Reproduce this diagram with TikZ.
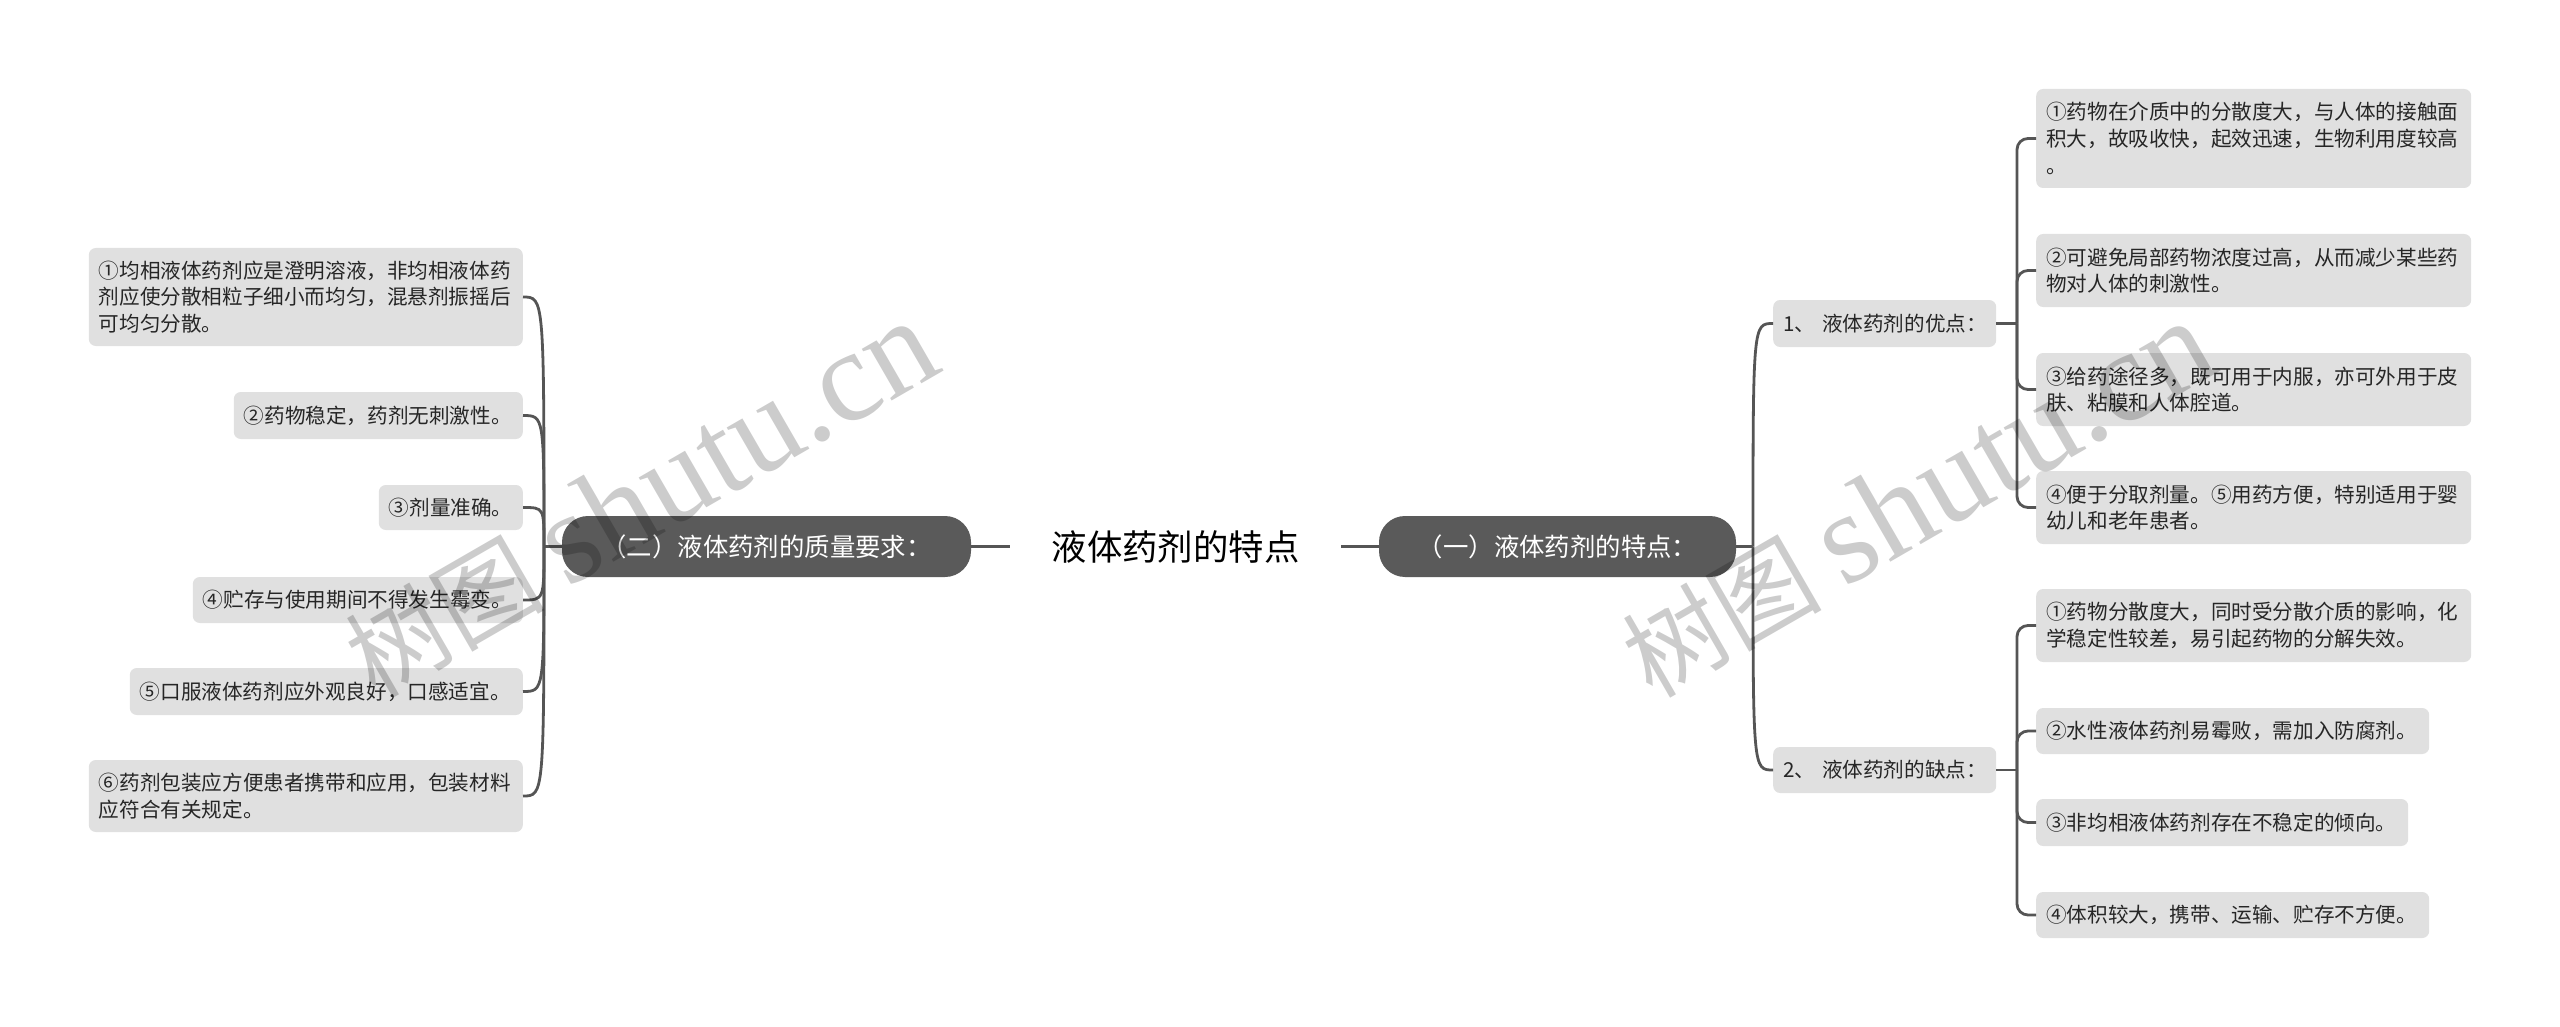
\documentclass[tikz,border=0pt]{standalone}
\usepackage{fontspec}
\setmainfont{Noto Sans CJK SC}
\newfontfamily\wmlatin{Liberation Serif}
\definecolor{maingray}{HTML}{5A5A5A}
\definecolor{leafgray}{HTML}{E0E0E0}
\definecolor{linegray}{HTML}{555555}
\definecolor{txtdark}{HTML}{262626}
\begin{document}
\begin{tikzpicture}[x=1pt,y=-1pt,
  leaf/.style={fill=leafgray, rounded corners=7pt, inner xsep=10pt, inner ysep=0pt,
    align=left, text=txtdark, font=\fontsize{20.6}{26.7}\selectfont},
  mainbox/.style={fill=maingray, rounded corners=26pt, text=white, inner sep=0pt,
    minimum height=61pt, font=\fontsize{25.4}{30}\selectfont},
  conn/.style={draw=linegray, line width=2.8pt},
  wm/.style={rotate=30, anchor=base west, text=black, text opacity=0.2, inner sep=0pt}
]
\useasboundingbox[fill=white] (0,0) rectangle (2560,1027);

% central title and main branches
\node[inner sep=0pt, minimum width=331pt, minimum height=50pt, text=black,
  font=\fontsize{35.4}{40}\selectfont] (title) at (1175.5,546.5) {液体药剂的特点};
\node[mainbox, minimum width=409pt] (b2) at (766.5,546.5) {（二）液体药剂的质量要求：};
\node[mainbox, minimum width=357pt] (b1) at (1557.5,546.5) {（一）液体药剂的特点：};

% left leaves
\node[leaf, anchor=east, minimum width=434pt, text width=414pt, minimum height=98pt] (L1) at (523,297)
  {①均相液体药剂应是澄明溶液，非均相液体药\\剂应使分散相粒子细小而均匀，混悬剂振摇后\\可均匀分散。};
\node[leaf, anchor=east, minimum width=289pt, text width=269pt, minimum height=47pt] (L2) at (523,415.5)
  {②药物稳定，药剂无刺激性。};
\node[leaf, anchor=east, minimum width=144pt, text width=124pt, minimum height=45pt] (L3) at (523,507.5)
  {③剂量准确。};
\node[leaf, anchor=east, minimum width=330pt, text width=310pt, minimum height=46pt] (L4) at (523,600)
  {④贮存与使用期间不得发生霉变。};
\node[leaf, anchor=east, minimum width=393pt, text width=373pt, minimum height=47pt] (L5) at (523,691.5)
  {⑤口服液体药剂应外观良好，口感适宜。};
\node[leaf, anchor=east, minimum width=434pt, text width=414pt, minimum height=72pt] (L6) at (523,796)
  {⑥药剂包装应方便患者携带和应用，包装材料\\应符合有关规定。};

% right second level
\node[leaf, anchor=west, minimum width=223pt, text width=203pt, minimum height=47pt] (n1) at (1773,323.5)
  {\mbox{1、 液体药剂的优点：}};
\node[leaf, anchor=west, minimum width=223pt, text width=203pt, minimum height=46pt] (n2) at (1773,770)
  {\mbox{2、 液体药剂的缺点：}};

% right leaves
\node[leaf, anchor=west, minimum width=435pt, text width=415pt, minimum height=99pt] (c1) at (2036,138.5)
  {①药物在介质中的分散度大，与人体的接触面\\积大，故吸收快，起效迅速，生物利用度较高\\。};
\node[leaf, anchor=west, minimum width=435pt, text width=415pt, minimum height=73pt] (c2) at (2036,270.5)
  {②可避免局部药物浓度过高，从而减少某些药\\物对人体的刺激性。};
\node[leaf, anchor=west, minimum width=435pt, text width=415pt, minimum height=73pt] (c3) at (2036,389.5)
  {③给药途径多，既可用于内服，亦可外用于皮\\肤、粘膜和人体腔道。};
\node[leaf, anchor=west, minimum width=435pt, text width=415pt, minimum height=73pt] (c4) at (2036,507.5)
  {④便于分取剂量。⑤用药方便，特别适用于婴\\幼儿和老年患者。};
\node[leaf, anchor=west, minimum width=435pt, text width=415pt, minimum height=73pt] (d1) at (2036,625.5)
  {①药物分散度大，同时受分散介质的影响，化\\学稳定性较差，易引起药物的分解失效。};
\node[leaf, anchor=west, minimum width=393pt, text width=373pt, minimum height=46pt] (d2) at (2036,731)
  {②水性液体药剂易霉败，需加入防腐剂。};
\node[leaf, anchor=west, minimum width=372pt, text width=352pt, minimum height=47pt] (d3) at (2036,822.5)
  {③非均相液体药剂存在不稳定的倾向。};
\node[leaf, anchor=west, minimum width=393pt, text width=373pt, minimum height=46pt] (d4) at (2036,915)
  {④体积较大，携带、运输、贮存不方便。};

% connectors: title to main branches
\draw[conn] (title.west) -- (b2.east);
\draw[conn] (title.east) -- (b1.west);

% left side
\coordinate (lj) at (544,546.5);
\draw[conn] (b2.west) -- (lj);
\foreach \n in {L1,L2,L3,L4,L5,L6}{
  \draw[conn] (lj) .. controls (lj |- \n.east) and (lj |- \n.east) .. (\n.east);
}

% right side first level
\coordinate (rj) at (1753,546.5);
\draw[conn] (b1.east) -- (rj);
\foreach \n in {n1,n2}{
  \draw[conn] (rj) .. controls (rj |- \n.west) and (rj |- \n.west) .. (\n.west);
}

% right side second level
\coordinate (s1) at (2017,323.5);
\coordinate (s2) at (2017,770);
\draw[conn] (n1.east) -- (s1);
\draw[conn] (n2.east) -- (s2);
\foreach \n in {c1,c2,c3,c4}{
  \draw[conn, rounded corners=11pt] (s1) |- (\n.west);
}
\foreach \n in {d1,d2,d3,d4}{
  \draw[conn, rounded corners=11pt] (s2) |- (\n.west);
}

% watermarks
\node[wm] (wm1) at (375,700) {\fontsize{100}{100}\selectfont 树图 {\wmlatin\fontsize{130}{130}\selectfont shutu.cn}};
\node[wm] (wm2) at (1652,700) {\fontsize{100}{100}\selectfont 树图 {\wmlatin\fontsize{130}{130}\selectfont shutu.cn}};
\end{tikzpicture}
\end{document}
